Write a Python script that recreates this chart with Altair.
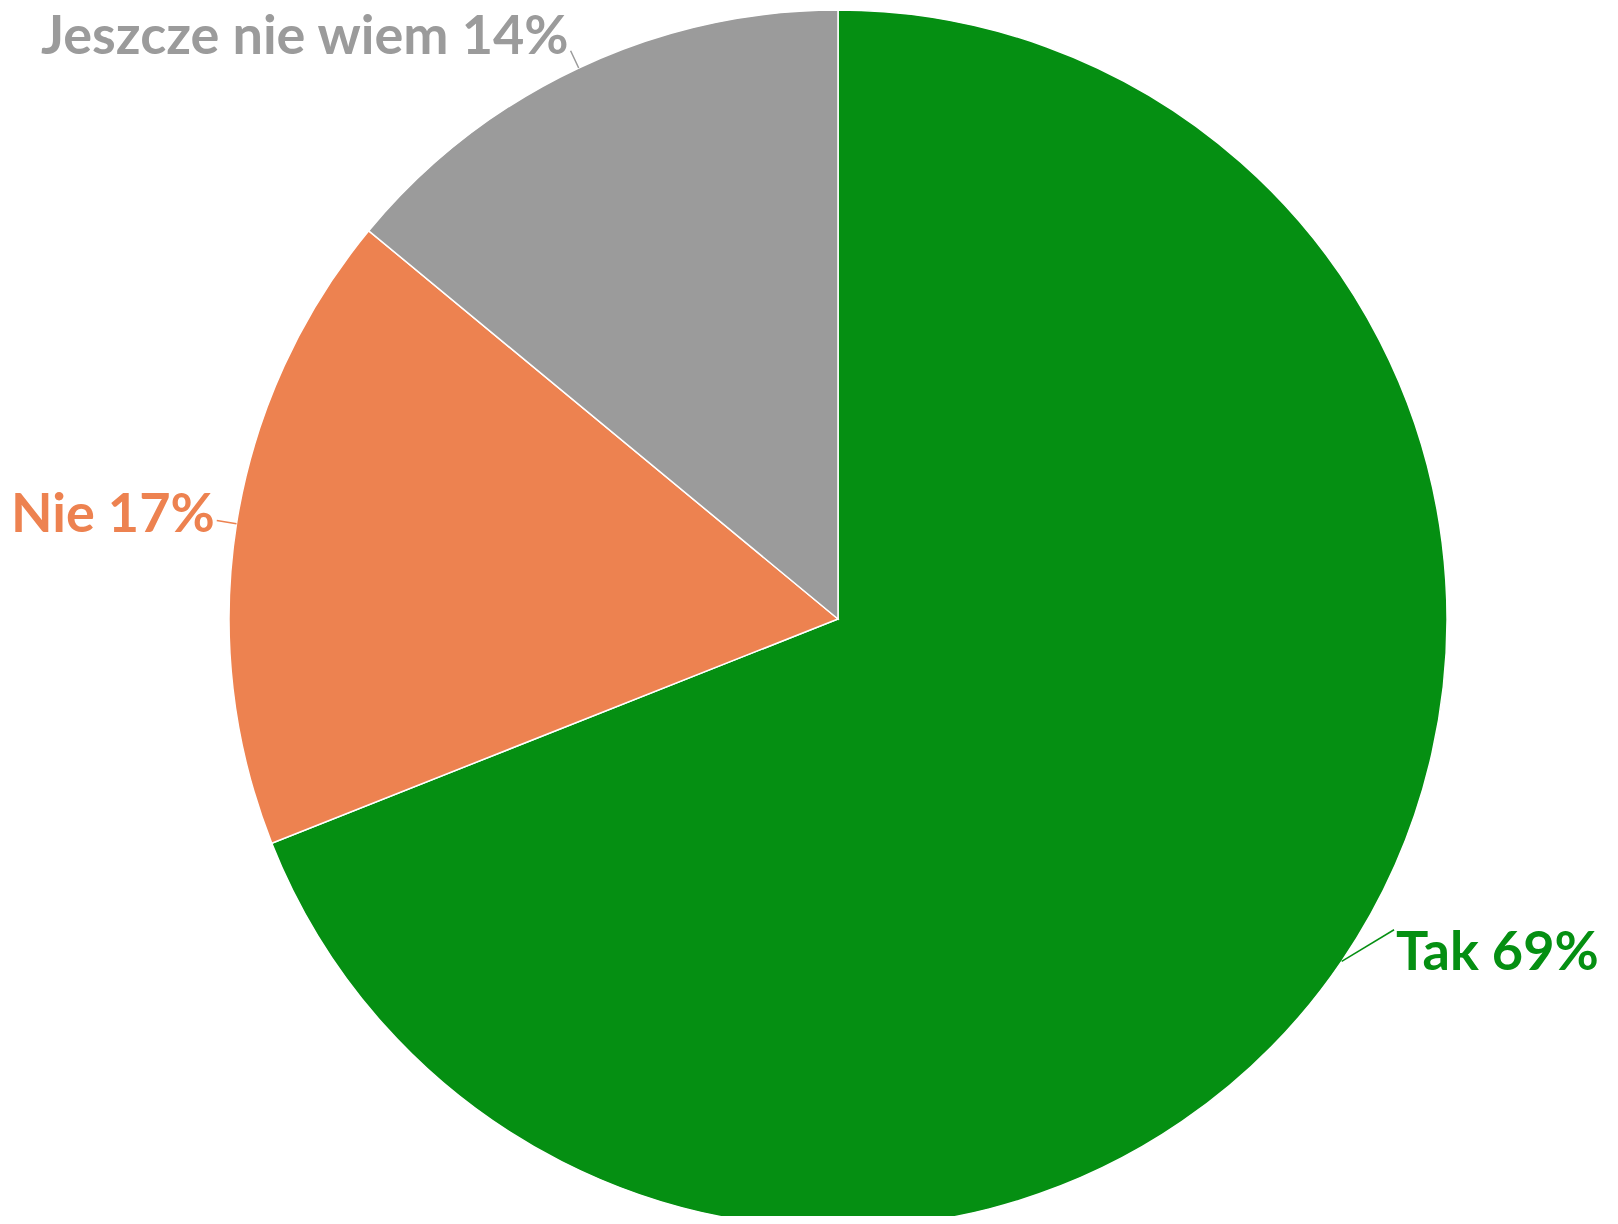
import altair as alt
import pandas as pd
import numpy as np

# --- data ---
categories = ["Tak", "Nie", "Jeszcze nie wiem"]
values = [69, 17, 14]
colors = ["#058f12", "#ed8250", "#9b9b9b"]

# --- layout ---
W, H = 1602, 1208
CX, CY, R = 830, 611, 609
label_shift_deg = [-5, 0, 0]
label_radius = [637, 629, 628]
label_dy = [24, -5, -13]

df = pd.DataFrame({"cat": categories, "value": values, "idx": list(range(len(values)))})
df["label"] = df["cat"] + " " + df["value"].astype(str) + "%"
tot = df["value"].sum()
cum = df["value"].cumsum()
mid = ((cum - df["value"] / 2) / tot * 2 * np.pi).to_numpy()
df["x1"] = CX + R * np.sin(mid)
df["y1"] = CY - R * np.cos(mid)
a2 = mid + np.radians(label_shift_deg)
lr = np.array(label_radius)
df["x2"] = CX + lr * np.sin(a2)
df["y2"] = CY - lr * np.cos(a2)
right = np.sin(mid) > 0
df["side"] = np.where(right, "right", "left")
df["tx"] = df["x2"] + np.where(right, 2, -2)
df["ty"] = df["y2"] + np.array(label_dy)

color = alt.Color("cat:N", scale=alt.Scale(domain=categories, range=colors), legend=None)
xs = alt.Scale(domain=[0, W], nice=False, zero=False)
ys = alt.Scale(domain=[H, 0], nice=False, zero=False)

base = alt.Chart(df)

arc = base.mark_arc(outerRadius=R, stroke="white", strokeWidth=1.5).encode(
    theta=alt.Theta("value:Q", stack=True),
    color=color,
    order=alt.Order("idx:Q"),
    x=alt.value(CX),
    y=alt.value(CY),
)

leader = base.mark_rule(strokeWidth=1.5).encode(
    x=alt.X("x1:Q", scale=xs, axis=None),
    y=alt.Y("y1:Q", scale=ys, axis=None),
    x2="x2:Q",
    y2="y2:Q",
    color=color,
)

txt_kw = dict(font="Lato", fontWeight="bold", fontSize=54, baseline="middle")
text_r = base.mark_text(align="left", **txt_kw).encode(
    x=alt.X("tx:Q", scale=xs, axis=None),
    y=alt.Y("ty:Q", scale=ys, axis=None),
    text="label:N",
    color=color,
).transform_filter(alt.datum.side == "right")

text_l = base.mark_text(align="right", **txt_kw).encode(
    x=alt.X("tx:Q", scale=xs, axis=None),
    y=alt.Y("ty:Q", scale=ys, axis=None),
    text="label:N",
    color=color,
).transform_filter(alt.datum.side == "left")

chart = alt.layer(arc, leader, text_r, text_l).properties(
    width=W, height=H, padding=0, autosize="none"
).configure_view(stroke=None)

chart.save("out.html", embed_options={"renderer": "svg", "actions": False})
